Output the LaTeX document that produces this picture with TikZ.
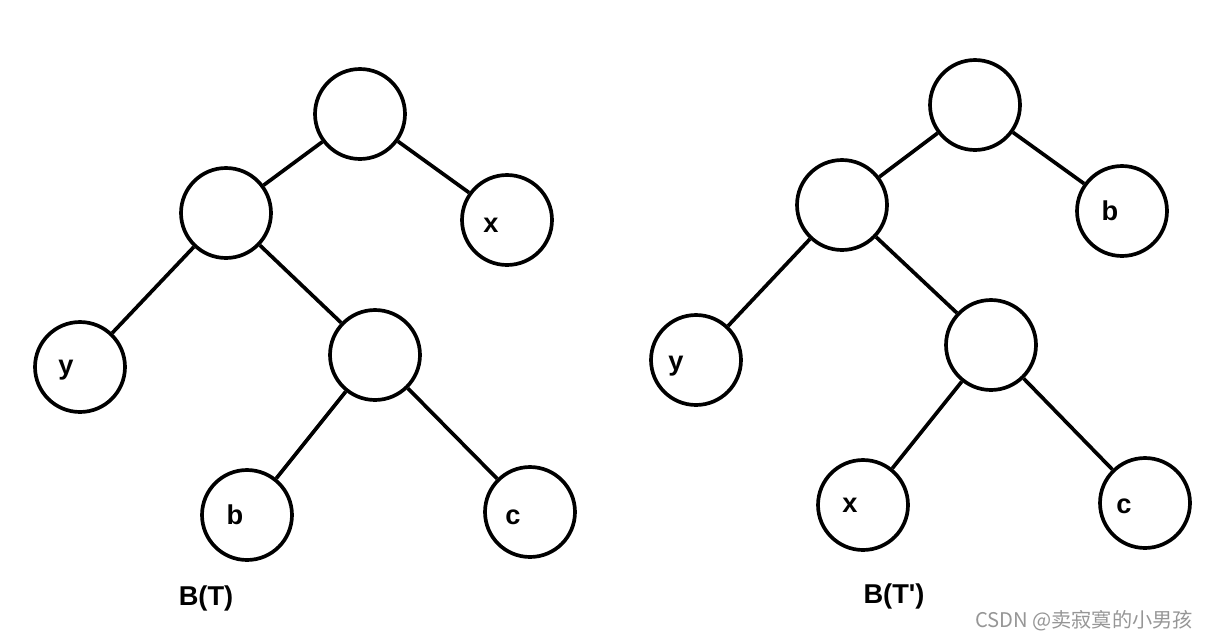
\documentclass[tikz,border=0pt]{standalone}
\usepackage{fontspec}
\setmainfont{Liberation Sans}
\newfontfamily\cjk{Noto Sans CJK SC}
\usepackage{tikz}
\definecolor{markgray}{RGB}{150, 150, 150}

\begin{document}
\begin{tikzpicture}[x=0.02cm, y=-0.02cm,
    vertex/.style={circle, draw, line width=2.1pt, minimum size=1.8cm, inner sep=0pt},
    letter/.style={font=\bfseries\fontsize{15.5}{18}\selectfont},
    edge/.style={line width=2.1pt}]
  \useasboundingbox (0,0) rectangle (1206,639);

  % left tree B(T)
  \node[vertex] (lroot) at (360,114) {};
  \node[vertex] (lleft) at (226,213) {};
  \node[vertex, label={[letter, xshift=-0.32cm, yshift=-0.1cm]center:x}] (lx) at (507,220) {};
  \node[vertex, label={[letter, xshift=-0.28cm, yshift=-0.06cm]center:y}] (ly) at (80,367) {};
  \node[vertex] (lmid) at (375,355) {};
  \node[vertex, label={[letter, xshift=-0.24cm]center:b}] (lb) at (247,515) {};
  \node[vertex, label={[letter, xshift=-0.34cm, yshift=-0.1cm]center:c}] (lc) at (530,512) {};
  \node[letter] (lname) at (206,598) {B(T)};

  \draw[edge] (lroot) -- (lleft);
  \draw[edge] (lroot) -- (lx);
  \draw[edge] (lleft) -- (ly);
  \draw[edge] (lleft) -- (lmid);
  \draw[edge] (lmid) -- (lb);
  \draw[edge] (lmid) -- (lc);

  % right tree B(T')
  \node[vertex] (rroot) at (975,105) {};
  \node[vertex] (rleft) at (842,205) {};
  \node[vertex, label={[letter, xshift=-0.24cm]center:b}] (rb) at (1122,211) {};
  \node[vertex, label={[letter, xshift=-0.4cm, yshift=-0.12cm]center:y}] (ry) at (696,360) {};
  \node[vertex] (rmid) at (991,345) {};
  \node[vertex, label={[letter, xshift=-0.26cm]center:x}] (rx) at (863,505) {};
  \node[vertex, label={[letter, xshift=-0.42cm, yshift=-0.06cm]center:c}] (rc) at (1145,503) {};
  \node[letter] (rname) at (894,596) {B(T\textquotesingle)};

  \draw[edge] (rroot) -- (rleft);
  \draw[edge] (rroot) -- (rb);
  \draw[edge] (rleft) -- (ry);
  \draw[edge] (rleft) -- (rmid);
  \draw[edge] (rmid) -- (rx);
  \draw[edge] (rmid) -- (rc);

  % watermark
  \node[markgray, font=\cjk\fontsize{11.5}{14}\selectfont] (mark) at (1084,621) {CSDN @卖寂寞的小男孩};
\end{tikzpicture}
\end{document}
